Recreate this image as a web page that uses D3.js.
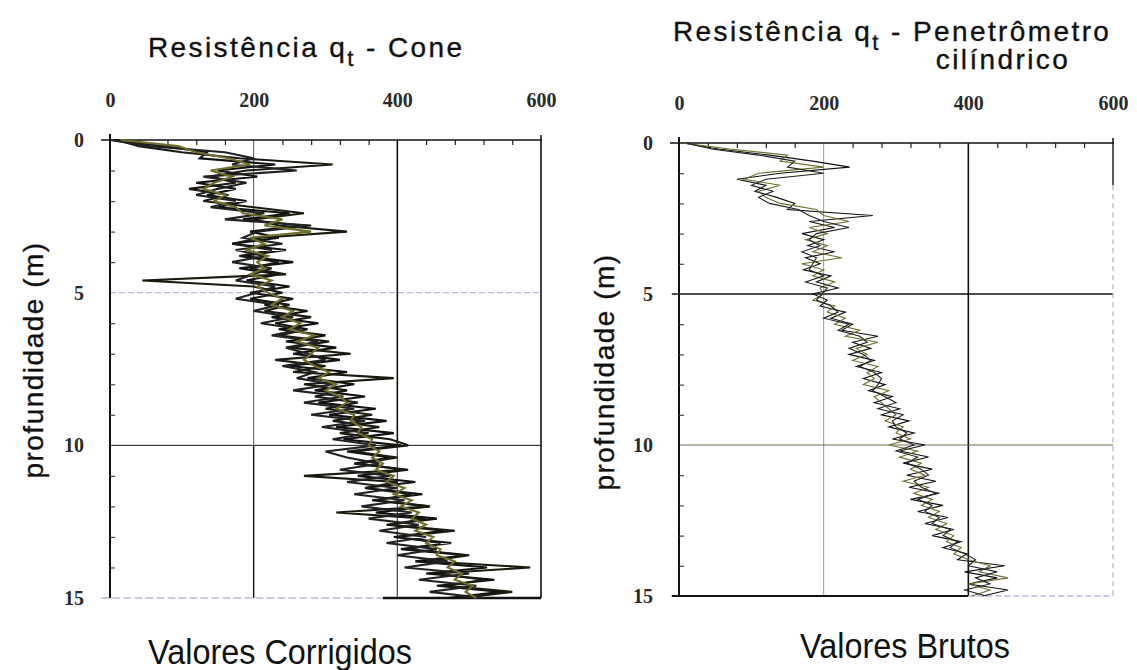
<!DOCTYPE html>
<html>
<head>
<meta charset="utf-8">
<script src="https://d3js.org/d3.v7.min.js"></script>
<style>
  body { margin: 0; background: #fff; }
  svg text { font-family: "Liberation Sans", Arial, sans-serif; fill: #111; }
  .tick text { font-family: "Liberation Serif", "Times New Roman", serif; font-size: 20px; font-weight: bold; fill: #2a2a2a; }
  .domain { display: none; }
  .big { stroke: #111; stroke-width: 0.35px; }
</style>
</head>
<body>
<svg id="chart" width="1137" height="670"></svg>
<script>
// depth of each reading (m)
var depths = [0,0.2,0.4,0.6,0.8,1.0,1.2,1.4,1.6,1.8,2.0,2.2,2.4,2.6,2.8,3.0,3.2,3.4,3.6,3.8,
  4.0,4.2,4.4,4.6,4.8,5.0,5.2,5.4,5.6,5.8,6.0,6.2,6.4,6.6,6.8,7.0,7.2,7.4,7.6,7.8,
  8.0,8.2,8.4,8.6,8.8,9.0,9.2,9.4,9.6,9.8,10.0,10.2,10.4,10.6,10.8,11.0,11.2,11.4,11.6,11.8,
  12.0,12.2,12.4,12.6,12.8,13.0,13.2,13.4,13.6,13.8,14.0,14.2,14.4,14.6,14.8,15.0];

var xTicks = [0, 200, 400, 600];
var yTicks = [0, 5, 10, 15];

// qt cone - corrected values
var coneA = [5,75,135,125,230,150,205,120,175,135, 190,150,250,185,265,195,235,170,245,185,
  255,180,235,190,250,195,255,215,275,225, 290,235,300,245,315,255,320,250,330,275,
  340,285,355,290,370,305,385,315,395,325, 405,330,390,340,415,345,425,355,435,365,
  445,370,455,385,465,395,475,405,495,425, 525,440,535,455,545,470];
var coneB = [10,40,100,180,310,190,140,175,110,165, 130,200,270,200,235,330,210,170,225,180,
  235,195,245,45,200,240,195,250,215,280, 230,275,235,305,250,335,230,300,255,395,
  270,330,285,345,300,365,310,375,320,390, 415,340,400,345,410,270,400,355,420,370,
  445,315,440,390,480,400,460,415,500,440, 585,455,520,470,560,490];
var coneC = [0,55,160,200,170,260,130,190,150,120, 175,140,215,160,280,205,185,240,175,215,
  170,225,200,175,230,205,175,235,200,255, 210,265,225,290,245,275,300,240,285,260,
  310,255,325,270,340,280,355,295,360,310, 370,300,330,375,320,390,330,400,340,410,
  350,420,360,430,375,440,385,455,400,470, 410,500,430,510,445,520];
var coneD = [15,95,120,165,195,140,170,145,130,160, 145,175,185,240,215,280,195,215,190,220,
  205,215,195,225,205,220,240,225,255,240, 265,250,285,260,290,280,270,285,305,290,
  315,300,320,330,315,340,335,350,345,365, 360,375,365,380,370,395,385,410,395,420,
  405,430,420,440,425,450,440,460,455,480, 470,490,480,505,495,510];

// qt cylindrical penetrometer - raw values
var cylA = [5,55,125,185,236,140,80,120,105,135, 160,150,268,180,215,170,200,178,215,175,
  195,172,210,190,220,185,205,195,230,210, 240,225,275,240,265,235,270,245,280,255,
  285,262,295,270,305,280,318,290,325,295, 340,305,345,310,350,315,355,318,360,320,
  365,330,372,340,380,350,390,365,398,385, 450,395,440,400,455,420];
var cylB = [5,70,150,140,200,110,90,140,110,120, 140,190,200,235,180,205,175,205,185,225,
  170,200,185,215,195,200,185,215,205,230, 215,250,230,275,245,260,240,275,260,270,
  255,290,270,280,290,300,285,310,300,320, 290,330,305,335,320,340,310,345,325,350,
  335,360,345,370,355,380,370,390,380,400, 430,415,455,400,430,405];
var cylC = [10,45,110,160,150,200,120,100,130,110, 125,165,180,200,235,190,180,195,170,190,
  185,180,200,175,205,198,190,210,220,200, 235,220,250,260,235,255,265,250,270,280,
  275,268,285,300,275,310,295,300,315,305, 325,300,330,315,335,345,325,335,355,330,
  350,340,360,350,375,365,385,375,395,410, 400,440,410,430,395,425];

var svg = d3.select("#chart");

var panels = [
  { x0: 110, x1: 541, y0: 140, y1: 598, series: [coneA, coneB, coneC, coneD],
    colors: ["#111", "#1a1a10", "#222", "#6f6d2c"], width: 2.1 },
  { x0: 679, x1: 1113, y0: 143, y1: 596, series: [cylA, cylB, cylC],
    colors: ["#111", "#6f6d2c", "#222"], width: 1.1 }
];

var minorX = d3.range(40, 600, 40).filter(function(v) { return v % 200 !== 0; });
var minorY = d3.range(1, 15, 1).filter(function(v) { return v % 5 !== 0; });

panels.forEach(function(p, pi) {
  var x = d3.scaleLinear().domain([0, 600]).range([p.x0, p.x1]);
  var y = d3.scaleLinear().domain([0, 15]).range([p.y0, p.y1]);
  var g = svg.append("g");

  // grid + frame, scanned look: some lines faint
  var solid = "#111", faint = "#b9b9dc";
  var segs = pi === 0 ? [
    [200, 0, 200, 10, "#555", 1], [200, 10, 200, 15, solid, 1.4],
    [400, 0, 400, 10, solid, 1.6], [400, 10, 400, 15, "#444", 1.2],
    [0, 5, 600, 5, faint, 1.3, "6,3"], [0, 10, 600, 10, solid, 1],
    [600, 0, 600, 15, solid, 1.6],
    [-12, 15, 380, 15, faint, 1.4, "8,3"], [380, 15, 600, 15, solid, 2.4]
  ] : [
    [200, 0, 200, 15, "#999", 1],
    [400, 0, 400, 15, solid, 1.6],
    [-10, 5, 600, 5, solid, 1.6], [0, 10, 600, 10, "#6e6d50", 1],
    [600, 0, 600, 1.4, solid, 1.4], [600, 1.4, 600, 15, faint, 1.4, "5,4"],
    [-10, 15, 400, 15, solid, 1.8], [400, 15, 600, 15, faint, 1.4, "6,3"]
  ];
  segs.forEach(function(s) {
    g.append("line")
      .attr("x1", x(s[0])).attr("y1", y(s[1]))
      .attr("x2", x(s[2])).attr("y2", y(s[3]))
      .attr("stroke", s[4]).attr("stroke-width", s[5])
      .attr("stroke-dasharray", s[6] || null);
  });
  // top and left axis lines (overshoot a bit like the original)
  g.append("line").attr("x1", p.x0 - 9).attr("x2", p.x1 + 1)
    .attr("y1", p.y0).attr("y2", p.y0).attr("stroke", solid).attr("stroke-width", 1.5);
  g.append("line").attr("x1", p.x0).attr("x2", p.x0)
    .attr("y1", p.y0 - 6).attr("y2", p.y1).attr("stroke", solid).attr("stroke-width", 2);
  g.append("line").attr("x1", p.x1).attr("x2", p.x1)
    .attr("y1", p.y0 - 5).attr("y2", p.y0).attr("stroke", solid).attr("stroke-width", 1.5);

  // minor ticks
  g.append("g").attr("transform", "translate(0," + p.y0 + ")")
    .call(d3.axisTop(x).tickValues(minorX).tickSize(-5).tickFormat(""))
    .selectAll("line").attr("stroke", "#222").attr("stroke-width", 1.2);
  g.append("g").attr("transform", "translate(" + p.x0 + ",0)")
    .call(d3.axisLeft(y).tickValues(minorY).tickSize(-5).tickFormat(""))
    .selectAll("line").attr("stroke", "#444").attr("stroke-width", 1.2);

  // tick labels
  g.append("g").attr("transform", "translate(0," + p.y0 + ")")
    .call(d3.axisTop(x).tickValues(xTicks).tickSize(0).tickPadding(33));
  g.append("g").attr("transform", "translate(" + p.x0 + ",0)")
    .call(d3.axisLeft(y).tickValues(yTicks).tickSize(0).tickPadding(26));

  // traces
  var line = d3.line()
    .x(function(d) { return x(d); })
    .y(function(d, i) { return y(depths[i]); });
  p.series.forEach(function(s, si) {
    g.append("path").datum(s)
      .attr("d", line)
      .attr("fill", "none")
      .attr("stroke", p.colors[si])
      .attr("stroke-width", p.width)
      .attr("stroke-linejoin", "miter");
  });

  // y axis title
  g.append("text").attr("class", "big")
    .attr("transform", "translate(" + (pi === 0 ? 43 : 614) + "," + (pi === 0 ? 360 : 372) + ") rotate(-90)")
    .attr("text-anchor", "middle")
    .style("font-size", "28px").style("letter-spacing", "1.5px")
    .text("profundidade (m)");
});

// titles
function title(xp, yp, rest) {
  var t = svg.append("text").attr("class", "big").attr("x", xp).attr("y", yp)
    .style("font-size", "28px").style("letter-spacing", "2.4px");
  t.append("tspan").text("Resistência q");
  t.append("tspan").attr("dy", 9).style("font-size", "22px").text("t");
  t.append("tspan").attr("dy", -9).text(rest);
  return t;
}
title(148, 57, " - Cone");
title(673, 41, " - Penetrômetro");
svg.append("text").attr("class", "big").attr("x", 1003).attr("y", 69).attr("text-anchor", "middle")
  .style("font-size", "28px").style("letter-spacing", "2.4px").text("cilíndrico");

// bottom captions (condensed face, squeezed horizontally)
function caption(xp, yp, txt) {
  svg.append("text")
    .attr("transform", "translate(" + xp + "," + yp + ") scale(0.9,1)")
    .attr("text-anchor", "middle")
    .style("font-size", "36px").text(txt);
}
caption(280, 664, "Valores Corrigidos");
caption(905, 658, "Valores Brutos");
</script>
</body>
</html>
